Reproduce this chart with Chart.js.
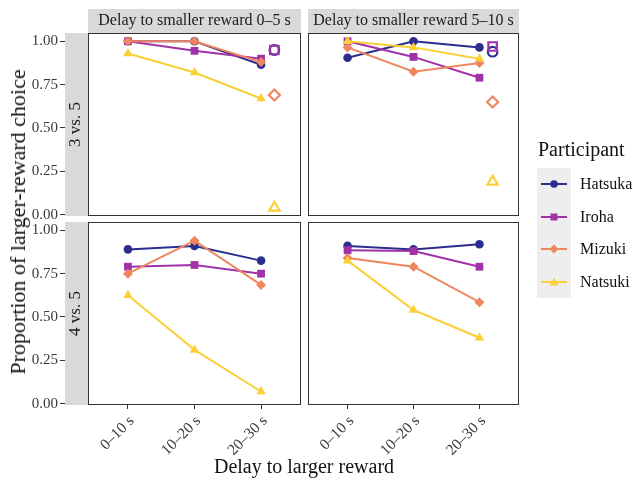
<!DOCTYPE html>
<html>
<head>
<meta charset="utf-8">
<script src="https://cdn.jsdelivr.net/npm/chart.js@4.4.0/dist/chart.umd.min.js"></script>
<style>
  body { margin: 0; background: #fff; }
  #wrap { position: relative; width: 633px; height: 480px; font-family: "Liberation Serif", "Times New Roman", serif; color: #111; }
  #wrap canvas { position: absolute; left: 0; top: 0; }
  .ytitle { position: absolute; left: 18px; top: 222px; transform: translate(-50%, -50%) rotate(-90deg); white-space: nowrap; font-size: 22px; }
  .xtitle { position: absolute; left: 304px; top: 466px; transform: translate(-50%, -50%); white-space: nowrap; font-size: 20px; }
  .legend { position: absolute; left: 537px; top: 138px; }
  .legend .ttl { font-size: 20px; margin-left: 1px; height: 30px; }
  .legend .row { display: flex; align-items: center; height: 32.5px; }
  .legend svg { display: block; background: #eeeeee; }
  .legend span { font-size: 16px; margin-left: 9px; }
</style>
</head>
<body>
<div id="wrap">
  <canvas id="c0" width="633" height="480"></canvas>
  <canvas id="c1" width="633" height="480"></canvas>
  <canvas id="c2" width="633" height="480"></canvas>
  <canvas id="c3" width="633" height="480"></canvas>
  <div class="ytitle">Proportion of larger-reward choice</div>
  <div class="xtitle">Delay to larger reward</div>
  <div class="legend" id="legend"><div class="ttl">Participant</div></div>
</div>
<script>
// Categories and tick labels
const participants = ['Hatsuka', 'Iroha', 'Mizuki', 'Natsuki'];
const delayLabels = ['0–10 s', '10–20 s', '20–30 s'];
const yTicks = [0, 0.25, 0.5, 0.75, 1];
const colStrips = ['Delay to smaller reward 0–5 s', 'Delay to smaller reward 5–10 s'];
const rowStrips = ['3 vs. 5', '4 vs. 5'];

// 3 vs. 5, smaller reward 0–5 s
const hatsuka35a = [1.00, 1.00, 0.865];
const iroha35a   = [1.00, 0.945, 0.90];
const mizuki35a  = [1.00, 1.00, 0.88];
const natsuki35a = [0.93, 0.82, 0.67];
const open35a    = [0.95, 0.95, 0.69, 0.04];   // hollow points, same order as participants

// 3 vs. 5, smaller reward 5–10 s
const hatsuka35b = [0.905, 1.00, 0.965];
const iroha35b   = [1.00, 0.91, 0.79];
const mizuki35b  = [0.965, 0.825, 0.875];
const natsuki35b = [1.00, 0.965, 0.90];
const open35b    = [0.94, 0.97, 0.65, 0.19];

// 4 vs. 5, smaller reward 0–5 s
const hatsuka45a = [0.89, 0.91, 0.825];
const iroha45a   = [0.79, 0.80, 0.75];
const mizuki45a  = [0.75, 0.94, 0.685];
const natsuki45a = [0.625, 0.31, 0.07];

// 4 vs. 5, smaller reward 5–10 s
const hatsuka45b = [0.91, 0.89, 0.92];
const iroha45b   = [0.885, 0.88, 0.79];
const mizuki45b  = [0.84, 0.79, 0.585];
const natsuki45b = [0.825, 0.54, 0.38];

const colors = ['#2c2e8e', '#a032a8', '#f0865f', '#fbcf38'];
const shapes = ['circle', 'rect', 'rectRot', 'triangle'];
const radii = [4.3, 5.5, 5, 5.5];
const openX = 3.2; // hollow points sit just right of the last category

const panels = [
  { series: [hatsuka35a, iroha35a, mizuki35a, natsuki35a], open: open35a, row: 0, col: 0 },
  { series: [hatsuka35b, iroha35b, mizuki35b, natsuki35b], open: open35b, row: 0, col: 1 },
  { series: [hatsuka45a, iroha45a, mizuki45a, natsuki45a], open: null, row: 1, col: 0 },
  { series: [hatsuka45b, iroha45b, mizuki45b, natsuki45b], open: null, row: 1, col: 1 }
];

const serif = '"Liberation Serif", "Times New Roman", serif';

// strips and panel border, drawn on top of the axes
const facetPlugin = {
  id: 'facet',
  afterDraw(chart, args, opts) {
    const { ctx, chartArea: a } = chart;
    ctx.save();
    ctx.fillStyle = '#d9d9d9';
    if (opts.top) {
      ctx.font = '16px ' + serif;
      ctx.fillRect(a.left, 9, a.right - a.left, a.top - 9);
      ctx.fillStyle = '#1a1a1a';
      ctx.textAlign = 'center';
      ctx.textBaseline = 'middle';
      ctx.fillText(opts.top, (a.left + a.right) / 2, 21);
      ctx.fillStyle = '#d9d9d9';
    }
    if (opts.side) {
      ctx.font = '17px ' + serif;
      ctx.fillRect(65, a.top, a.left - 65, a.bottom - a.top);
      ctx.translate(76, (a.top + a.bottom) / 2);
      ctx.rotate(-Math.PI / 2);
      ctx.fillStyle = '#1a1a1a';
      ctx.textAlign = 'center';
      ctx.textBaseline = 'middle';
      ctx.fillText(opts.side, 0, 0);
      ctx.setTransform(1, 0, 0, 1, 0, 0);
    }
    ctx.strokeStyle = '#333';
    ctx.lineWidth = 1;
    ctx.strokeRect(a.left + 0.5, a.top + 0.5, a.right - a.left - 1, a.bottom - a.top - 1);
    ctx.restore();
  }
};

const buildChart = (p, i) => {
  const datasets = [];
  p.series.forEach((vals, k) => {
    datasets.push({
      label: participants[k],
      data: vals.map((v, j) => ({ x: j + 1, y: v })),
      borderColor: colors[k],
      backgroundColor: colors[k],
      borderWidth: 2,
      pointStyle: shapes[k],
      pointRadius: radii[k],
      pointBorderWidth: 0,
      pointBackgroundColor: colors[k],
      order: 10 - k
    });
  });
  if (p.open) {
    p.open.forEach((v, k) => {
      datasets.push({
        label: participants[k] + ' (open)',
        data: [{ x: openX, y: v }],
        showLine: false,
        borderColor: colors[k],
        pointStyle: shapes[k],
        pointRadius: radii[k] + 0.5,
        pointBorderWidth: 2.2,
        pointBorderColor: colors[k],
        pointBackgroundColor: 'rgba(0,0,0,0)',
        order: 4 - k
      });
    });
  }

  const left = p.col === 0;
  const bottom = p.row === 1;
  const yAxisW = 60;
  const xAxisH = 60;
  const area = {
    left: left ? 88 : 308,
    right: left ? 301 : 519,
    top: p.row === 0 ? 33 : 222,
    bottom: p.row === 0 ? 216 : 405
  };

  return new Chart(document.getElementById('c' + i), {
    type: 'line',
    data: { datasets },
    plugins: [facetPlugin],
    options: {
      responsive: false,
      animation: false,
      devicePixelRatio: 1,
      events: [],
      layout: {
        padding: {
          left: left ? area.left - yAxisW : area.left,
          right: 633 - area.right,
          top: area.top,
          bottom: bottom ? 480 - area.bottom - xAxisH : 480 - area.bottom
        }
      },
      scales: {
        x: {
          type: 'linear',
          min: 0.4,
          max: 3.6,
          display: bottom,
          afterBuildTicks: s => { s.ticks = [1, 2, 3].map(v => ({ value: v })); },
          afterFit: s => { s.height = bottom ? xAxisH : 0; },
          grid: { drawOnChartArea: false, drawTicks: true, tickLength: 4, color: '#333' },
          border: { display: false },
          ticks: {
            minRotation: 45,
            maxRotation: 45,
            padding: 3,
            labelOffset: 4,
            color: '#3a3a3a',
            font: { family: serif, size: 15.5 },
            callback: v => delayLabels[v - 1]
          }
        },
        y: {
          min: -0.008,
          max: 1.048,
          display: left,
          afterBuildTicks: s => { s.ticks = yTicks.map(v => ({ value: v })); },
          afterFit: s => { s.width = left ? yAxisW : 0; },
          grid: { drawOnChartArea: false, drawTicks: true, tickLength: 28, color: '#333' },
          border: { display: false },
          ticks: {
            padding: 2,
            color: '#3a3a3a',
            font: { family: serif, size: 15 },
            callback: v => Number(v).toFixed(2)
          }
        }
      },
      plugins: {
        legend: { display: false },
        tooltip: { enabled: false },
        facet: {
          top: p.row === 0 ? colStrips[p.col] : null,
          side: left ? rowStrips[p.row] : null
        }
      }
    }
  });
};

// legend built from the same participants/colours
const buildLegend = () => {
  const box = document.getElementById('legend');
  const marks = [
    c => `<circle cx="17" cy="16" r="3.8" fill="${c}"/>`,
    c => `<rect x="13.5" y="12.5" width="7" height="7" fill="${c}"/>`,
    c => `<polygon points="17,11.5 21.5,16 17,20.5 12.5,16" fill="${c}"/>`,
    c => `<polygon points="17,11.5 21.5,19.5 12.5,19.5" fill="${c}"/>`
  ];
  participants.forEach((name, k) => {
    const row = document.createElement('div');
    row.className = 'row';
    row.innerHTML = `<svg width="34" height="32.5"><line x1="4" y1="16" x2="30" y2="16" stroke="${colors[k]}" stroke-width="2"/>${marks[k](colors[k])}</svg><span>${name}</span>`;
    box.appendChild(row);
  });
};

document.addEventListener('DOMContentLoaded', () => {
  panels.forEach(buildChart);
  buildLegend();
});
</script>
</body>
</html>
